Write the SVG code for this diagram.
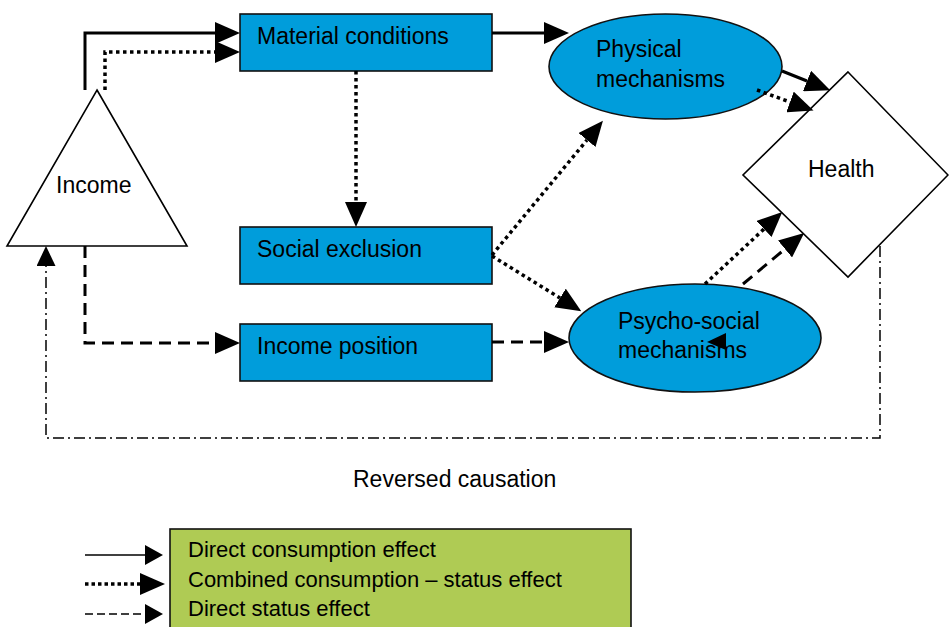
<svg xmlns="http://www.w3.org/2000/svg" width="949" height="627" viewBox="0 0 949 627">
<style>
.t{font-family:"Liberation Sans",Arial,sans-serif;font-size:23px;fill:#000}
.lg{font-family:"Liberation Sans",Arial,sans-serif;font-size:22px;fill:#000}
.box{fill:#009ddb;stroke:#111;stroke-width:1.6}
.wh{fill:#fff;stroke:#000;stroke-width:1.6}
.c{fill:none;stroke:#000}
.solid{stroke-width:3}
.dot{stroke-width:3.5;stroke-dasharray:3.5 3.5}
.dash{stroke-width:3;stroke-dasharray:12 7}
.dd{stroke-width:1.5;stroke-dasharray:11 4 2 4}
</style>
<defs>
<marker id="ah" markerUnits="userSpaceOnUse" viewBox="0 0 25 22" markerWidth="25" markerHeight="22" refX="0" refY="11" orient="auto">
<path d="M0,0 L25,11 L0,22 Z" fill="#000"/>
</marker>
<marker id="as" markerUnits="userSpaceOnUse" viewBox="0 0 20 19" markerWidth="20" markerHeight="19" refX="0" refY="9.5" orient="auto">
<path d="M0,0 L20,9.5 L0,19 Z" fill="#000"/>
</marker>
<marker id="al" markerUnits="userSpaceOnUse" viewBox="0 0 18 20" markerWidth="18" markerHeight="20" refX="0" refY="10" orient="auto">
<path d="M0,0 L18,10 L0,20 Z" fill="#000"/>
</marker>
</defs>

<g id="income">
<polygon class="wh" points="97,90 187,246 7,246"/>
<text class="t" x="56" y="193">Income</text>
</g>

<g id="material">
<rect class="box" x="240" y="14" width="252" height="57"/>
<text class="t" x="257" y="44">Material conditions</text>
</g>

<g id="social">
<rect class="box" x="240" y="227" width="252" height="57"/>
<text class="t" x="257" y="257">Social exclusion</text>
</g>

<g id="incpos">
<rect class="box" x="240" y="324" width="252" height="57"/>
<text class="t" x="257" y="354">Income position</text>
</g>

<g id="physical">
<ellipse class="box" cx="665.5" cy="66.5" rx="116.5" ry="52.5"/>
<text class="t" x="596" y="57">Physical</text>
<text class="t" x="596" y="87">mechanisms</text>
</g>

<g id="psycho">
<ellipse class="box" cx="695" cy="338" rx="126" ry="54"/>
<text class="t" x="618" y="329">Psycho-social</text>
<text class="t" x="618" y="358">mechanisms</text>
</g>

<g id="health">
<polygon class="wh" points="848,72 948,175 848,277 743,175"/>
<text class="t" x="808" y="177">Health</text>
</g>

<g id="reversed">
<text class="t" x="353" y="487">Reversed causation</text>
</g>

<g id="connectors">
<path class="c solid" d="M85,90 V33 H215" marker-end="url(#ah)"/>
<path class="c dot" d="M105,90 V52 H215" marker-end="url(#ah)"/>
<path class="c solid" d="M492,33 H544" marker-end="url(#ah)"/>
<path class="c solid" d="M782,71 L807,81" marker-end="url(#ah)"/>
<path class="c dot" d="M757,90 L790,102" marker-end="url(#ah)"/>
<path class="c dot" d="M356,71 V202" marker-end="url(#ah)"/>
<path class="c dot" d="M492,255 L587,140" marker-end="url(#ah)"/>
<path class="c dot" d="M492,256 L560,298" marker-end="url(#ah)"/>
<path class="c dash" d="M85,246 V343 H215" marker-end="url(#ah)"/>
<path class="c dash" d="M492,342 H544" marker-end="url(#ah)"/>
<path class="c dot" d="M705,284 L764,229" marker-end="url(#ah)"/>
<path class="c dash" d="M743,284 L785,249" marker-end="url(#ah)"/>
<path class="c dd" d="M880,246 V438 H46 V266" marker-end="url(#as)"/>
<polygon points="707,342 726,333 726,350" fill="#000"/>
</g>

<g id="legend">
<rect x="170" y="529" width="461" height="110" fill="#afcb54" stroke="#111" stroke-width="1.6"/>
<path class="c" stroke-width="1.5" d="M85,555 H145" marker-end="url(#al)"/>
<path class="c" stroke-width="3.5" stroke-dasharray="3.5 3" d="M85,584 H140" marker-end="url(#ah)"/>
<path class="c" stroke-width="1.5" stroke-dasharray="8 4" d="M85,614 H145" marker-end="url(#al)"/>
<text class="lg" x="188" y="557">Direct consumption effect</text>
<text class="lg" x="188" y="587">Combined consumption – status effect</text>
<text class="lg" x="188" y="616">Direct status effect</text>
</g>
</svg>
